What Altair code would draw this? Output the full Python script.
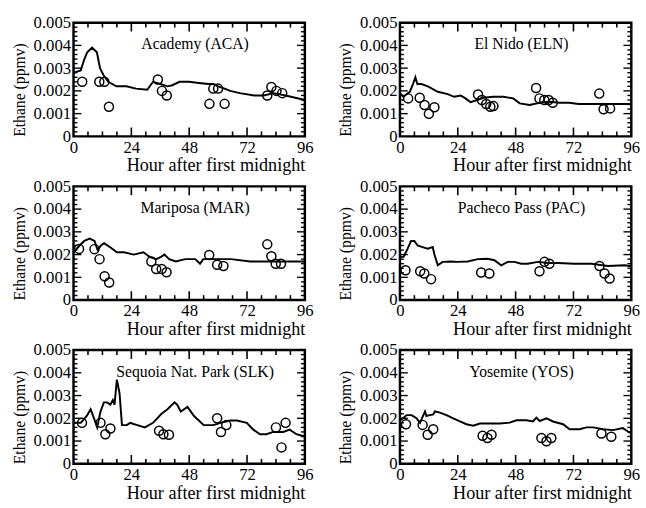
import altair as alt
import pandas as pd

FONT = "Liberation Serif"
W, H = 236, 116

# ---------------- data ----------------
SITES = ["Academy (ACA)", "El Nido (ELN)", "Mariposa (MAR)",
         "Pacheco Pass (PAC)", "Sequoia Nat. Park (SLK)", "Yosemite (YOS)"]

# model lines
ACA_LH = [0, 3, 4.5, 5.7, 7.7, 9.7, 11, 12.4, 14.4, 17.8, 21.9, 25.9, 30.6, 33, 36, 39, 41,
          44, 48, 52, 56, 58, 60, 62.7, 65, 69, 75, 79, 83, 88, 92, 96]
ACA_LV = [0.0028, 0.0029, 0.0034, 0.0037, 0.0039, 0.0037, 0.0030, 0.0027, 0.0024, 0.0022,
          0.0022, 0.0021, 0.00205, 0.0024, 0.0023, 0.0022, 0.00225, 0.0024, 0.0024, 0.00235,
          0.0023, 0.0023, 0.0022, 0.0021, 0.0020, 0.0019, 0.0018, 0.0018, 0.0019, 0.0018,
          0.0017, 0.0016]
ELN_LH = [0, 1.4, 4.1, 5.4, 6.4, 7.2, 8.9, 11.6, 15.7, 19.8, 22.5, 25.2, 27.2, 29.3, 32,
          34.7, 38.8, 42.9, 47, 49.7, 53.8, 57.9, 62, 66.1, 70.2, 74.2, 79.7, 86.5, 93.3, 96]
ELN_LV = [0.0019, 0.00174, 0.00196, 0.0023, 0.0026, 0.0023, 0.0023, 0.0022, 0.00196, 0.00186,
          0.00174, 0.0018, 0.00167, 0.0015, 0.0016, 0.0017, 0.00174, 0.00174, 0.00167, 0.00145,
          0.00138, 0.00148, 0.00152, 0.00148, 0.00148, 0.00142, 0.00142, 0.00142, 0.00142,
          0.00142]
MAR_LH = [0, 2.5, 4.5, 6.7, 8.7, 10, 11.4, 12.7, 15.5, 18, 20.9, 25, 29, 31.6, 34.3, 36.3,
          37.7, 39.7, 42.4, 46.4, 50.5, 52.5, 53.8, 57.2, 59.9, 65.3, 73.4, 81.4, 89.5, 96]
MAR_LV = [0.0021, 0.0024, 0.0026, 0.0027, 0.0026, 0.0022, 0.0024, 0.0025, 0.0023, 0.0021,
          0.0021, 0.0020, 0.0021, 0.0019, 0.0018, 0.0019, 0.0020, 0.0018, 0.0017, 0.0018,
          0.0018, 0.0016, 0.0018, 0.0018, 0.0018, 0.0018, 0.0017, 0.0017, 0.0017, 0.0017]
PAC_LH = [0, 1.5, 3.2, 4.6, 6, 7.3, 9.4, 11.5, 13.6, 14.3, 15.7, 17.7, 21.2, 24, 28.1, 32.3,
          36.4, 39.2, 42, 44.7, 47.5, 50.3, 53, 57.2, 61.4, 65.5, 72.4, 79.4, 86.3, 93.2, 96]
PAC_LV = [0.0019, 0.0019, 0.00226, 0.0026, 0.0026, 0.0024, 0.00233, 0.00226, 0.00233, 0.0020,
          0.00153, 0.00168, 0.0017, 0.00168, 0.0017, 0.0018, 0.00182, 0.00175, 0.00153,
          0.00168, 0.00168, 0.0016, 0.0016, 0.00168, 0.00163, 0.00163, 0.0016, 0.0016, 0.0015,
          0.00153, 0.00149]
SLK_LH = [0, 3, 5.5, 7.1, 8.5, 9.8, 11.2, 12.6, 13.9, 15.3, 16.3, 17, 18, 19.1, 20.1, 22.1,
          23.5, 24.9, 26.5, 29.6, 33, 36.5, 39, 41.9, 43, 44.5, 47.3, 50, 52, 54, 58, 61, 65,
          67.8, 71.9, 74.6, 77.4, 80, 82.9, 87, 89.7, 92.5, 96]
SLK_LV = [0.0018, 0.0018, 0.0021, 0.0024, 0.0020, 0.0016, 0.0023, 0.0027, 0.0027, 0.0026,
          0.0028, 0.0026, 0.0037, 0.0031, 0.0017, 0.0017, 0.0018, 0.00175, 0.0017, 0.0016,
          0.0018, 0.0022, 0.0024, 0.0027, 0.0026, 0.0023, 0.0025, 0.0021, 0.0019, 0.0017,
          0.0017, 0.0018, 0.0019, 0.0019, 0.0018, 0.0015, 0.0013, 0.0013, 0.0014, 0.0014,
          0.0015, 0.0013, 0.0012]
YOS_LH = [0, 0.7, 2.8, 4.8, 6.9, 8.3, 10.4, 11, 12.4, 13.8, 14.5, 16.6, 19.3, 22.1, 24.9,
          27.6, 30.4, 33.1, 37.3, 41.4, 45.6, 48.3, 52.5, 55.2, 56.6, 58, 60.8, 63.5, 67.7,
          70.4, 74.6, 77.3, 80.1, 84.3, 88.4, 92.5, 94.6, 96]
YOS_LV = [0.0019, 0.00196, 0.00214, 0.00214, 0.0020, 0.0018, 0.0023, 0.0021, 0.00214,
          0.00217, 0.0023, 0.00225, 0.00214, 0.0020, 0.00186, 0.00174, 0.00167, 0.00177,
          0.00177, 0.00177, 0.00181, 0.00191, 0.00191, 0.00186, 0.00203, 0.00188, 0.0020,
          0.00186, 0.00174, 0.00152, 0.00152, 0.0016, 0.0016, 0.00152, 0.00148, 0.00157,
          0.00142, 0.00133]

# observations (circles)
ACA_PH = [3.6, 10.7, 12.8, 14.7, 35.0, 36.7, 38.7, 56.4, 58, 60, 62.7, 80.4, 82.1, 84.2, 86.6]
ACA_PV = [0.0024, 0.0024, 0.0024, 0.0013, 0.0025, 0.0020, 0.0018, 0.00143, 0.0021, 0.0021,
          0.00143, 0.0018, 0.00217, 0.0020, 0.0019]
ELN_PH = [3.4, 8.2, 10.2, 12, 14.3, 32.4, 34, 35.8, 37.5, 38.8, 56.5, 57.9, 59.9, 61.7, 63.4,
          82.7, 84.5, 87.2]
ELN_PV = [0.00167, 0.0017, 0.00138, 0.00099, 0.00128, 0.00184, 0.0016, 0.00142, 0.0013,
          0.00133, 0.00213, 0.00167, 0.0016, 0.0016, 0.00148, 0.00188, 0.00119, 0.00123]
MAR_PH = [2.3, 8.7, 10.8, 12.9, 14.8, 32.3, 34.3, 36.6, 38.6, 56.3, 59.6, 62.2, 80.4, 82.1,
          83.9, 86.1]
MAR_PV = [0.00225, 0.00224, 0.0018, 0.00105, 0.00077, 0.0017, 0.00137, 0.00137, 0.00122,
          0.00198, 0.00155, 0.0015, 0.00245, 0.00193, 0.0016, 0.0016]
PAC_PH = [2.3, 8.4, 10.1, 12.9, 33.7, 37.1, 57.9, 60, 62, 82.8, 84.9, 87]
PAC_PV = [0.00131, 0.00127, 0.00117, 0.00092, 0.00121, 0.00117, 0.00127, 0.00168, 0.0016,
          0.0015, 0.00117, 0.00095]
SLK_PH = [3.5, 11.2, 13.2, 15.3, 35.5, 37.3, 39.6, 59.6, 61.2, 63.4, 84, 86.3, 88]
SLK_PV = [0.0018, 0.0018, 0.0013, 0.00155, 0.00145, 0.0013, 0.00128, 0.0020, 0.0014, 0.0017,
          0.0016, 0.00072, 0.0018]
YOS_PH = [2.5, 9.4, 11.5, 13.8, 34.3, 36.3, 38, 58.7, 60.8, 62.8, 83.6, 87.7]
YOS_PV = [0.00174, 0.00171, 0.00128, 0.00152, 0.00123, 0.00113, 0.00128, 0.00113, 0.00099,
          0.00113, 0.00133, 0.00119]

# axis labels and tick positions
X_LABELS = [0, 24, 48, 72, 96]
X_MAJOR = [24, 48, 72]
X_MINOR = [6, 12, 18, 30, 36, 42, 54, 60, 66, 78, 84, 90]
Y_LABELS = [0, 0.001, 0.002, 0.003, 0.004, 0.005]
Y_MAJOR = [0.001, 0.002, 0.003, 0.004]
Y_MINOR = [0.0002, 0.0004, 0.0006, 0.0008, 0.0012, 0.0014, 0.0016, 0.0018,
           0.0022, 0.0024, 0.0026, 0.0028, 0.0032, 0.0034, 0.0036, 0.0038,
           0.0042, 0.0044, 0.0046, 0.0048]

SERIES = [
    (ACA_LH, ACA_LV, ACA_PH, ACA_PV),
    (ELN_LH, ELN_LV, ELN_PH, ELN_PV),
    (MAR_LH, MAR_LV, MAR_PH, MAR_PV),
    (PAC_LH, PAC_LV, PAC_PH, PAC_PV),
    (SLK_LH, SLK_LV, SLK_PH, SLK_PV),
    (YOS_LH, YOS_LV, YOS_PH, YOS_PV),
]

# ---------------- chart ----------------
xs = alt.Scale(domain=[0, 96], nice=False, zero=False)
ys = alt.Scale(domain=[0, 0.005], nice=False)

xaxis = alt.Axis(values=X_LABELS, title="Hour after first midnight", ticks=False, tickSize=0,
                 domain=False, grid=False, labelFontSize=17,
                 labelColor="black", titleFontSize=18.5,
                 titleFontWeight="normal", titleColor="black", titleAnchor="end",
                 labelPadding=3, titlePadding=1, labelFlush=False)
yaxis = alt.Axis(values=Y_LABELS, title="Ethane (ppmv)", ticks=False, tickSize=0,
                 domain=False, grid=False, labelFontSize=17,
                 labelColor="black", titleFontSize=16,
                 titleFontWeight="normal", titleColor="black", titleAnchor="start",
                 labelPadding=3, titlePadding=6, labelFlush=False,
                 labelExpr="datum.value == 0 ? '0' : format(datum.value, '.3f')")


def yticks(vals, x1, x2):
    return alt.Chart(pd.DataFrame({"v": vals})).mark_rule(
        color="black", strokeWidth=1.4).encode(
        y=alt.Y("v:Q", scale=ys, axis=yaxis), x=alt.value(x1), x2=alt.value(x2))


def xticks(vals, y1, y2):
    return alt.Chart(pd.DataFrame({"v": vals})).mark_rule(
        color="black", strokeWidth=1.6).encode(
        x=alt.X("v:Q", scale=xs, axis=xaxis), y=alt.value(y1), y2=alt.value(y2))


def panel(name, lh, lv, ph, pv):
    line = alt.Chart(pd.DataFrame({"hour": lh, "val": lv})).mark_line(
        color="black", strokeWidth=2).encode(
        x=alt.X("hour:Q", scale=xs, axis=xaxis),
        y=alt.Y("val:Q", scale=ys, axis=yaxis))
    pts = alt.Chart(pd.DataFrame({"hour": ph, "val": pv})).mark_point(
        shape="circle", size=85, filled=False, color="black", strokeWidth=1.5,
        opacity=1).encode(
        x=alt.X("hour:Q", scale=xs, axis=xaxis),
        y=alt.Y("val:Q", scale=ys, axis=yaxis))
    label = alt.Chart(pd.DataFrame({"t": [name]})).mark_text(
        fontSize=16, color="black", align="center", baseline="middle").encode(
        text="t:N", x=alt.value(W / 2 + 6), y=alt.value(22))
    layers = [
        line, pts, label,
        yticks(Y_MAJOR, 0, 8), yticks(Y_MINOR, 0, 4),
        yticks(Y_MAJOR, W, W - 8), yticks(Y_MINOR, W, W - 4),
        xticks(X_MAJOR, H, H - 9), xticks(X_MINOR, H, H - 5),
        xticks(X_MAJOR, 0, 9), xticks(X_MINOR, 0, 5),
    ]
    return alt.layer(*layers).properties(width=W, height=H)


panels = [panel(n, *s) for n, s in zip(SITES, SERIES)]
rows = [alt.hconcat(panels[i], panels[i + 1], spacing=22) for i in (0, 2, 4)]

chart = alt.vconcat(*rows, spacing=0).properties(
    padding={"left": 10, "top": 7, "right": 5, "bottom": 0},
    background="white",
).configure(font=FONT).configure_axis(labelFont=FONT, titleFont=FONT).configure_text(
    font=FONT).configure_view(stroke="black", strokeWidth=2.5)

chart.save("out.html", embed_options={"renderer": "svg", "actions": False})
